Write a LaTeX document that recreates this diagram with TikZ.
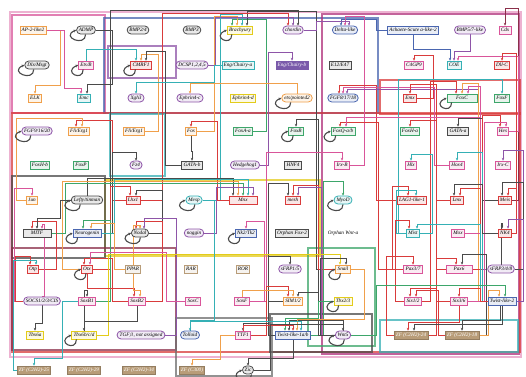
\documentclass[tikz,border=0pt]{standalone}
\usepackage{fontspec}
\setmainfont{Liberation Serif}
\usetikzlibrary{arrows.meta,shapes.misc}
\definecolor{gpink}{HTML}{D9559A}
\definecolor{gred}{HTML}{D93B3B}
\definecolor{gorange}{HTML}{F0A04B}
\definecolor{gyellow}{HTML}{E3CC1A}
\definecolor{ggreen}{HTML}{3DA66A}
\definecolor{gteal}{HTML}{35B0B5}
\definecolor{gblue}{HTML}{4A66B0}
\definecolor{gpurple}{HTML}{8E55A8}
\definecolor{gdark}{HTML}{4A4A4A}
\definecolor{gmagenta}{HTML}{B0307A}
\definecolor{gtan}{HTML}{B89C78}
\definecolor{gmaroon}{HTML}{8B2F4A}
\pgfdeclarelayer{bg}
\pgfsetlayers{bg,main}

\begin{document}
\begin{tikzpicture}[x=1pt,y=1pt,
  box/.style={draw=#1,fill=#1!12,line width=0.8pt,rectangle,inner xsep=1.8pt,inner ysep=0pt,minimum height=8pt,font=\fontsize{5.2}{6}\selectfont\itshape},
  oval/.style={box=#1,rounded rectangle},
  dbox/.style={box=#1,fill=#1,text=white},
  zf/.style={box=gtan!80!black,fill=gtan,text=white},
  plain/.style={box=white,draw=none},
  link/.style={draw=#1,line width=1pt,->,>={Stealth[length=2.8pt,width=2.6pt]}},
  frame/.style={draw=#1,line width=1.8pt,opacity=0.75},
  selfloop/.style={gdark,line width=1.1pt,->,>={Stealth[length=2.8pt,width=2.8pt]}}]
\useasboundingbox (0,0) rectangle (526,376);

\node[box=gorange] (ap2) at (33,346) {AP-2-like2};
\node[oval=gdark] (admp) at (86,346) {ADMP};
\node[oval=gdark] (bmp24) at (138,346) {BMP2/4};
\node[oval=gdark] (bmp3) at (192,346) {BMP3};
\node[box=gyellow] (bra) at (240,346) {Brachyury};
\node[oval=gpurple] (chd) at (293,346) {chordin};
\node[oval=gblue] (dll) at (345,346) {Delta-like};
\node[box=gblue] (ashl) at (413,346) {Achaete-Scute a-like-2};
\node[oval=gpurple] (bmp57) at (470,346) {BMP5/7-like};
\node[box=gpink] (cdx) at (505,346) {Cdx};

\node[oval=gdark] (dlx) at (37,311) {Dlx/Msgt};
\node[box=gpink] (etsb) at (86,311) {Ets/B};
\node[box=gred] (cmrf) at (141,311) {CMRF1};
\node[oval=gpurple] (dcsp) at (192,311) {DCSP1,2,4,5};
\node[box=gteal] (enga) at (238,311) {Eng/Chairy-a};
\node[dbox=gpurple!70!gblue] (engb) at (292,311) {Eng/Chairy-b};
\node[box=gdark] (e12) at (340,311) {E12/E47};
\node[box=gpink] (c4gp) at (414,311) {C4GP9};
\node[box=gteal] (coe) at (454,311) {COE};
\node[box=gred] (dllc) at (502,311) {Dll-C};

\node[box=gorange] (elk) at (35,278) {ELK};
\node[box=gteal] (emc) at (84,278) {Emc};
\node[oval=gpurple] (xgh) at (136,278) {Xgh3};
\node[oval=gpurple] (efn4c) at (190,278) {Ephrin4-c};
\node[box=gyellow] (efn4d) at (243,278) {Ephrin4-d};
\node[oval=gorange] (pnt) at (297,278) {ets/pointed2};
\node[oval=gblue] (fgf8) at (343,278) {FGF8/17/18};
\node[box=gred] (emx) at (410,278) {Emx};
\node[box=ggreen,minimum width=30pt] (foxc) at (462,278) {FoxC};
\node[box=ggreen] (foxf) at (502,278) {FoxF};

\node[oval=gpurple] (fgf9) at (37,245) {FGF9/16/20};
\node[box=gorange] (fli1) at (79,245) {Fli/Erg1};
\node[box=gorange] (fli2) at (134,245) {Fli/Erg1};
\node[box=gorange] (fos) at (191,245) {Fos};
\node[box=ggreen] (foxaa) at (243,245) {FoxA-a};
\node[box=ggreen] (foxb) at (296,245) {FoxB};
\node[box=ggreen] (foxq) at (343,245) {FoxQ-a/b};
\node[box=ggreen] (foxha) at (410,245) {FoxH-a};
\node[box=gdark] (gataa) at (458,245) {GATA-a};
\node[box=gpink] (hes) at (503,245) {Hes};

\node[box=ggreen] (foxhb) at (40,211) {FoxH-b};
\node[box=ggreen] (foxp) at (81,211) {FoxP};
\node[oval=gpurple] (fz4) at (136,211) {Fz4};
\node[box=gdark] (gatab) at (192,211) {GATA-b};
\node[oval=gpurple] (hh) at (245,211) {Hedgehog1};
\node[box=gdark] (hnf) at (293,211) {HNF4};
\node[box=gpink] (irxb) at (342,211) {Irx-B};
\node[box=gpink] (hlx) at (411,211) {Hlx};
\node[box=gpink] (hox4) at (457,211) {Hox4};
\node[box=gpink] (irxc) at (503,211) {Irx-C};

\node[box=gorange] (jun) at (32,176) {Jun};
\node[oval=gdark] (lefty) at (87,176) {Lefty/tinman};
\node[box=gred] (lhx) at (133,176) {Lhx1};
\node[oval=gteal] (mesp) at (194,176) {Mesp};
\node[box=gred,minimum width=28pt] (mnx) at (243,176) {Mnx};
\node[box=gred] (mesh) at (293,176) {mesh};
\node[oval=gteal] (myod) at (343,176) {MyoD};
\node[box=gred] (lag) at (412,176) {LAG1-like-1};
\node[box=gred] (lmx) at (457,176) {Lmx};
\node[box=gred] (meis) at (505,176) {Meis};

\node[box=gdark,minimum width=28pt] (mitf) at (37,143) {MITF};
\node[box=gblue] (ngn) at (87,143) {Neurogenin};
\node[oval=gdark] (nodal) at (140,143) {Nodal};
\node[oval=gpurple] (nog) at (194,143) {noggin};
\node[box=gblue] (nk2) at (246,143) {Nk2/Tk2};
\node[box=gdark] (ofox) at (292,143) {Orphan Fox-2};
\node[plain] (ownt) at (343,143) {Orphan Wnt-a};
\node[box=gteal] (mist) at (413,143) {Mist};
\node[box=gpink] (mox) at (458,143) {Mox};
\node[box=gred] (nk4) at (505,143) {NK4};

\node[box=gred] (otp) at (33,107) {Otp};
\node[box=gred] (otx) at (87,107) {Otx};
\node[box=gtan] (ppar) at (133,107) {PPAR};
\node[box=gtan] (rar) at (191,107) {RAR};
\node[box=gtan] (ror) at (243,107) {ROR};
\node[oval=gpurple] (sfrp15) at (290,107) {sFRP1/5};
\node[box=gorange] (snail) at (343,107) {Snail};
\node[box=gpink] (pax37) at (413,107) {Pax3/7};
\node[box=gpink,minimum width=26pt] (pax6) at (459,107) {Pax6};
\node[oval=gpurple] (sfrp348) at (501,107) {sFRP3/4/8};

\node[oval=gpurple] (socs) at (42,75) {SOCS1/2/3/CIS};
\node[box=gpink] (soxb1) at (87,75) {SoxB1};
\node[box=gpink] (soxb2) at (137,75) {SoxB2};
\node[box=gpink] (soxc) at (193,75) {SoxC};
\node[box=gpink] (soxf) at (242,75) {SoxF};
\node[box=gorange] (sim) at (293,75) {SIM1/2};
\node[box=gyellow] (tbx23) at (343,75) {Tbx2/3};
\node[box=gpink] (six12) at (413,75) {Six1/2};
\node[box=gpink] (six36) at (459,75) {Six3/6};
\node[box=gblue] (twl2) at (502,75) {Twist-like-2};

\node[box=gyellow] (tbxa) at (35,41) {Tbx6a};
\node[box=gyellow] (tbx6) at (84,41) {Tbx6b/c/d};
\node[oval=gpurple] (tgfb) at (141,41) {TGF$\beta$, not assigned};
\node[oval=gblue] (tll) at (190,41) {Tolloid};
\node[box=gpink] (ttf) at (243,41) {TTF1};
\node[box=gblue] (twl1) at (293,41) {Twist-like-1a/b};
\node[oval=gpurple] (wnt) at (343,41) {Wnt5};
\node[zf] (zf24) at (411,41) {ZF (C2H2)-24};
\node[zf] (zf18) at (462,41) {ZF (C2H2)-18};

\node[zf] (zf1) at (34,6) {ZF (C2H2)-25};
\node[zf] (zf2) at (84,6) {ZF (C2H2)-29};
\node[zf] (zf3) at (139,6) {ZF (C2H2)-34};
\node[zf] (zf4) at (192,6) {ZF (C300)};
\node[oval=gdark] (zic) at (248,6) {Zic};

\foreach \n in {admp,bra,dlx,etsb,cmrf,pnt,foxc,fgf9,foxb,foxq,lefty,mesp,myod,ngn,nodal,nk2,otx,snail,tbx23,tbx6,wnt,zic}
    \draw[selfloop] ([xshift=5pt]\n.south west) .. controls +(0,-13) and +(-16,-7) .. (\n.west);

\begin{pgfonlayer}{bg}
\fill[white] (0,0) rectangle (526,376);
\draw[frame=gpink!60] (10,19) rectangle (521,364);
\draw[frame=gpink] (12,263) rectangle (105,361);
\draw[frame=gblue] (104,263) rectangle (378,358);
\draw[frame=gpurple] (108,298) rectangle (176,330);
\draw[frame=gmagenta] (322,22) rectangle (519,362);
\draw[frame=gred] (12,24) rectangle (520,263);
\draw[frame=gyellow] (105,120) rectangle (320,196);
\draw[frame=gdark] (12,118) rectangle (105,200);
\draw[frame=gmaroon] (12,26) rectangle (176,128);
\draw[frame=ggreen] (308,30) rectangle (375,128);
\draw[frame=gdark] (270,24) rectangle (372,62);
\draw[frame=gdark!80] (176,0) rectangle (272,58);
\draw[frame=gteal] (380,24) rectangle (518,56);
\draw[frame=gred] (380,262) rectangle (520,296);
\draw[frame=gteal] (110,200) rectangle (165,262);
\foreach \c/\s/\a/\X/\y/\t/\dx in {
    ggreen/foxaa/east/266/357/bra/-8, gorange/fos/east/214/360/bra/-3, gteal/mesp/east/220/362/bra/2, gdark/snail/west/316/365/bra/7,
    gred/lhx/east/162/363/chd/-5, gpurple/dcsp/east/215/359/chd/0, gdark/otx/east/110/366/chd/5,
    gblue/ashl/west/376/357/dll/-4, gpink/irxb/east/364/360/dll/0, gpurple/chd/east/316/355/dll/4, gmaroon/meis/east/518/368/cdx/0,
    gteal/etsb/north/86/327/cmrf/-5, gorange/fli2/east/158/322/cmrf/0, gdark/gatab/west/165/325/cmrf/5,
    gpurple/hh/east/268/324/engb/0, gred/emx/east/433/321/c4gp/0, gblue/ashl/south/413/327/coe/-4,
    gpurple/bmp57/south/470/325/coe/0, gpink/hes/east/518/320/coe/4, gred/nk4/east/516/323/dllc/0,
    gorange/ap2/east/60/291/elk/0, gpink/ap2/east/64/288/emc/-3, gdark/admp/east/112/292/emc/3,
    gteal/enga/west/214/294/xgh/0, gorange/pnt/north/297/293/efn4c/0,
    gred/lag/west/376/291/fgf8/-4, gpink/hox4/west/434/289/fgf8/0, gpurple/sfrp348/west/478/287/fgf8/4,
    gred/pax6/west/436/292/emx/0, gred/six12/east/430/295/foxc/-6, gorange/twl2/west/478/293/foxc/0,
    gpink/mox/east/480/290/foxc/6, gteal/mist/west/398/297/foxf/0,
    gred/lhx/west/112/256/fli1/-3, gorange/jun/west/16/258/fli1/3, gred/mnx/west/217/255/fos/0,
    gdark/tbx23/west/318/257/foxb/0, gred/pax37/west/378/254/foxq/-3, gpink/six36/east/480/259/foxq/3,
    gred/lmx/west/436/256/foxha/0, gdark/meis/west/482/258/gataa/0, gred/pax6/east/482/261/hes/-3, gpink/six36/east/484/254/hes/3,
    gdark/ngn/east/112/224/fz4/0, gdark/fos/south/191/225/gatab/0, gteal/mist/east/432/222/hlx/0,
    gteal/twl2/west/482/224/hox4/0, gpurple/sfrp348/east/523/226/irxc/0, gpink/soxf/east/266/224/irxb/0,
    gpink/socs/west/14/188/jun/0, gred/otx/east/110/190/lhx/-3, gdark/nodal/east/162/186/lhx/3,
    gdark/lefty/north/87/198/mnx/-10, gorange/otx/west/62/195/mnx/-5, ggreen/mitf/east/65/193/mnx/0,
    gteal/ngn/east/114/197/mnx/5, gpurple/nog/east/216/189/mnx/10,
    gdark/sim/west/268/193/mesh/-5, gred/snail/west/318/191/mesh/0, gpurple/wnt/west/321/189/mesh/5,
    ggreen/twl1/east/323/195/myod/0, gred/pax37/west/392/190/lag/-4, gteal/mist/west/396/186/lag/4,
    gdark/nk4/west/482/192/lmx/-3, gred/pax6/east/480/188/lmx/3, gdark/sfrp348/east/523/194/meis/-3, gred/nk4/east/516/188/meis/3,
    gred/otp/east/56/155/mitf/-5, gpink/socs/north/44/152/mitf/5, gdark/lefty/west/60/158/mitf/0,
    ggreen/soxb1/east/110/156/ngn/-4, gorange/ppar/west/114/153/ngn/4,
    gred/soxb2/east/162/155/nodal/-4, gorange/ppar/north/133/151/nodal/0, gpurple/tgfb/east/176/158/nodal/4,
    gpink/soxf/east/264/155/nk2/0, gred/six12/west/395/156/mist/-4, gteal/twl2/west/480/152/mist/4,
    gdark/sfrp348/north/501/153/nk4/-3, gpurple/twl2/east/523/157/nk4/3,
    gred/socs/west/15/120/otp/-3, gteal/zf1/west/13/116/otp/3, gred/soxb2/west/112/118/otx/-3, gpink/soxc/west/166/124/otx/3,
    gdark/twl1/west/268/120/sfrp15/0, gyellow/tbx6/east/108/122/snail/-3, gdark/wnt/west/320/118/snail/3,
    gred/zf24/west/386/120/pax37/0, gred/six36/west/436/118/pax6/-3, gdark/zf18/east/486/122/pax6/3,
    gdark/tbx6/north/84/86/soxb1/0, gred/otx/south/87/88/soxb2/-3, gorange/ppar/south/133/86/soxb2/3,
    gred/ttf/east/266/90/sim/-5, gorange/soxf/north/242/86/sim/0, gdark/wnt/west/318/84/sim/5,
    gred/zf24/east/436/88/six12/-3, gred/zf18/west/438/86/six12/3, gred/twl2/west/480/88/six36/0,
    gorange/zf18/east/488/86/twl2/-3, ggreen/wnt/east/376/91/twl2/3,
    gdark/socs/south/42/53/tbxa/0, gdark/soxb2/south/137/55/tbx6/0, gteal/mesp/east/214/56/tll/0,
    gdark/twl1/west/268/53/ttf/0, ggreen/tbx23/west/318/58/twl1/-8, gdark/wnt/north/343/56/twl1/-4,
    gred/ttf/north/243/51/twl1/0, gorange/snail/east/364/57/twl1/4, gteal/tll/north/190/55/twl1/8,
    gdark/zic/east/270/52/wnt/0, gred/six36/south/459/54/zf24/-3, gdark/twl2/south/502/52/zf24/3, gdark/twl2/south/500/56/zf18/0,
    gteal/soxb1/west/62/18/zf1/0, gorange/ttf/west/220/17/zf4/0, gdark/twl1/south/293/18/zic/0}{
    \coordinate (T) at ([xshift=\dx]\t.north);
    \draw[link=\c] (\s.\a) -| (\X,\y) -| (T);
}
\end{pgfonlayer}
\end{tikzpicture}
\end{document}
